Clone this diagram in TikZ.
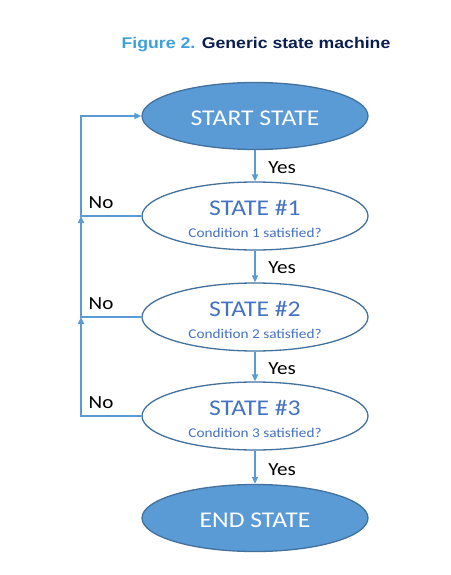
\documentclass[tikz,border=0pt]{standalone}
\usepackage{fontspec}
\setmainfont{Carlito}
\newfontfamily\titlefont{Liberation Sans}
\usetikzlibrary{shapes.geometric,arrows.meta}
\definecolor{fillblue}{HTML}{5B9BD5}
\definecolor{edgeblue}{HTML}{41719C}
\definecolor{textblue}{HTML}{4472C4}
\definecolor{figblue}{HTML}{3CA0DC}
\definecolor{navy}{HTML}{0A1E50}
\newcommand{\wide}[1]{\scalebox{1.14}[1]{#1}}
\begin{document}
\begin{tikzpicture}[x=1pt,y=-1pt,
  endstate/.style={ellipse,draw=edgeblue,line width=1.3pt,fill=fillblue,minimum width=226pt,minimum height=67pt,inner sep=0pt},
  midstate/.style={ellipse,draw=edgeblue,line width=1.3pt,fill=white,minimum width=226pt,minimum height=68pt,inner sep=0pt},
  bigtxt/.style={anchor=base,inner sep=0pt,font=\fontsize{22.5}{26}\selectfont},
  condtxt/.style={anchor=base,inner sep=0pt,text=textblue,font=\fontsize{13.4}{16}\selectfont},
  conn/.style={draw=fillblue,line width=1.6pt,-{Triangle[length=7pt,width=6pt]}},
  lbl/.style={anchor=base,inner sep=0pt,font=\fontsize{18.5}{22}\selectfont,text=black}]
\useasboundingbox (0,0) rectangle (450,575);
\node[anchor=base,inner sep=0pt] (title) at (256,49) {\titlefont\bfseries\fontsize{15.5}{18}\selectfont\wide{\textcolor{figblue}{Figure 2.} \textcolor{navy}{Generic state machine}}};
\node[endstate] (start) at (255,116) {};
\node[midstate] (s1) at (255,216) {};
\node[midstate] (s2) at (255,317) {};
\node[midstate] (s3) at (255,416) {};
\node[endstate] (end) at (255,518) {};
\node[bigtxt,text=white] (t0) at (255,125) {\wide{START STATE}};
\node[bigtxt,text=textblue] (t1) at (255,215) {\wide{STATE \#1}};
\node[condtxt] (c1) at (255,237) {\wide{Condition 1 satisfied?}};
\node[bigtxt,text=textblue] (t2) at (255,316) {\wide{STATE \#2}};
\node[condtxt] (c2) at (255,338) {\wide{Condition 2 satisfied?}};
\node[bigtxt,text=textblue] (t3) at (255,415) {\wide{STATE \#3}};
\node[condtxt] (c3) at (255,437) {\wide{Condition 3 satisfied?}};
\node[bigtxt,text=white] (t4) at (255,527) {\wide{END STATE}};
\coordinate (j1) at (81,216);
\coordinate (j2) at (81,317);
\coordinate (j3) at (81,416);
\coordinate (top) at (81,116);
\draw[conn] (start.south) -- (s1.north);
\draw[conn] (s1.south) -- (s2.north);
\draw[conn] (s2.south) -- (s3.north);
\draw[conn] (s3.south) -- (end.north);
\draw[conn] (s1.west) -- (j1) -- (top) -- (start.west);
\draw[conn] (s2.west) -- (j2) -- (j1);
\draw[conn] (s3.west) -- (j3) -- (j2);
\node[lbl] (y1) at (282,173) {\wide{Yes}};
\node[lbl] (y2) at (282,273) {\wide{Yes}};
\node[lbl] (y3) at (282,374) {\wide{Yes}};
\node[lbl] (y4) at (282,475) {\wide{Yes}};
\node[lbl] (n1) at (101,208) {\wide{No}};
\node[lbl] (n2) at (101,309) {\wide{No}};
\node[lbl] (n3) at (101,408) {\wide{No}};
\end{tikzpicture}
\end{document}
